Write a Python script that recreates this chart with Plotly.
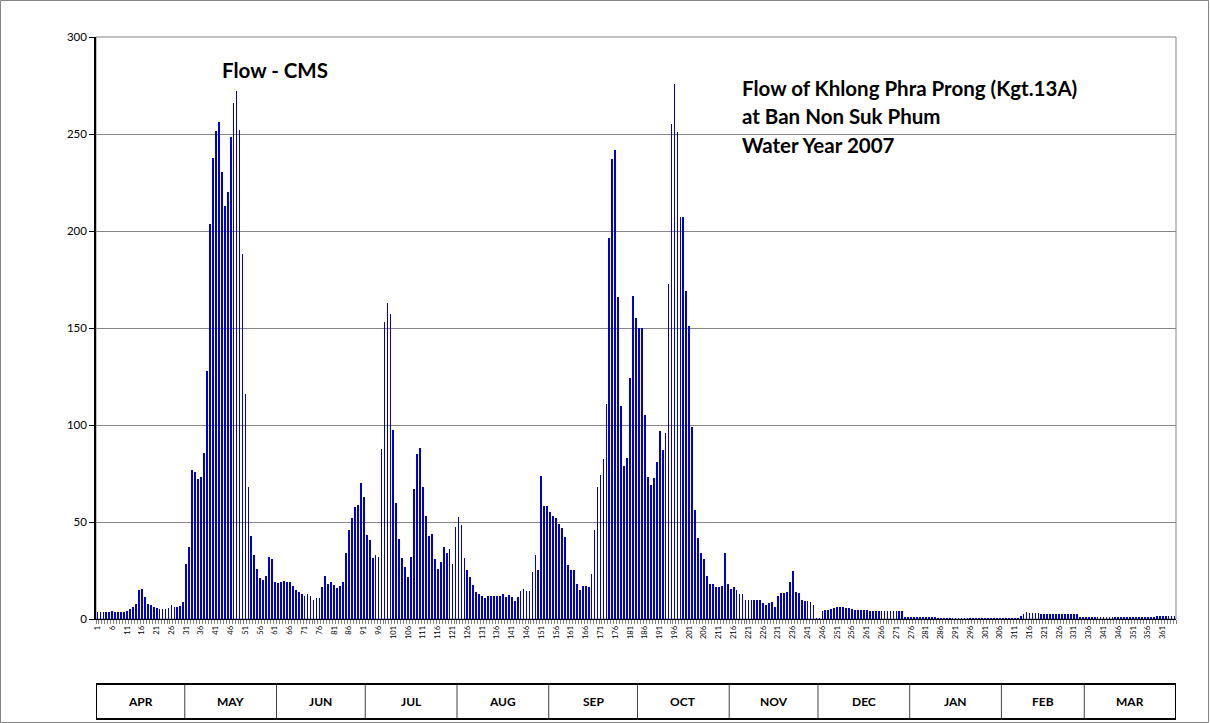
import plotly.graph_objects as go

# Daily discharge (m3/s), Khlong Phra Prong at Ban Non Suk Phum, water year 2007 (1 Apr 2007 - 31 Mar 2008)
days = list(range(1, 366))
flow_cms = [
    3.6, 3.6, 3.6, 3.6, 3.7, 4.0, 3.6, 3.6, 3.6, 3.7,
    4.0, 5.0, 6.0, 7.5, 15.0, 15.5, 11.5, 7.7, 7.0, 6.3,
    5.6, 5.2, 5.0, 5.0, 5.6, 7.0, 6.3, 6.3, 6.5, 9.0,
    28.4, 37.0, 76.6, 76.0, 72.0, 73.0, 85.5, 128.0, 203.5, 237.5,
    251.5, 256.0, 230.5, 213.0, 220.0, 248.5, 266.0, 272.0, 252.0, 188.0,
    116.0, 68.0, 43.0, 33.0, 26.0, 21.0, 20.0, 22.0, 32.0, 31.0,
    19.0, 18.6, 19.0, 19.4, 19.0, 19.0, 17.0, 15.0, 14.0, 13.0,
    12.0, 13.0, 12.0, 10.0, 10.6, 11.0, 16.7, 22.0, 18.0, 19.0,
    17.5, 16.0, 17.0, 19.0, 34.0, 46.0, 52.0, 57.5, 58.6, 70.0,
    63.0, 43.5, 40.5, 31.4, 33.0, 32.0, 87.6, 153.0, 163.0, 157.0,
    97.6, 60.0, 41.0, 31.4, 27.0, 21.6, 31.8, 67.0, 85.0, 88.0,
    68.0, 53.0, 43.0, 43.6, 30.8, 25.6, 29.5, 37.0, 34.0, 36.0,
    28.5, 47.6, 52.7, 48.5, 31.3, 25.3, 21.8, 17.7, 14.0, 13.0,
    12.0, 11.0, 11.7, 11.7, 11.7, 11.7, 12.0, 13.0, 11.5, 12.5,
    11.5, 9.5, 11.3, 14.3, 15.6, 14.3, 14.4, 24.2, 33.0, 25.3,
    73.5, 58.4, 58.4, 55.0, 53.0, 52.0, 48.8, 47.0, 42.4, 28.0,
    25.5, 25.5, 18.3, 15.0, 17.0, 17.2, 16.6, 23.2, 45.8, 67.8,
    74.0, 82.6, 111.0, 196.5, 237.0, 242.0, 166.0, 110.0, 78.7, 83.0,
    124.0, 166.6, 155.0, 150.0, 150.0, 105.0, 73.0, 69.0, 72.5, 81.0,
    97.0, 87.0, 96.0, 172.5, 255.0, 276.0, 251.0, 207.0, 207.0, 169.0,
    151.0, 99.0, 56.0, 42.0, 34.0, 31.0, 22.0, 18.0, 18.0, 16.6,
    16.6, 17.0, 34.0, 18.0, 15.6, 16.4, 15.0, 13.0, 13.0, 10.0,
    9.7, 9.7, 9.7, 9.7, 10.0, 8.0, 7.4, 8.2, 8.6, 6.0,
    12.0, 13.2, 13.4, 14.0, 19.0, 25.0, 13.7, 13.5, 10.0, 9.5,
    9.2, 9.0, 7.2, 0.5, 0.5, 4.3, 4.6, 4.8, 5.2, 5.5,
    6.2, 6.4, 6.0, 5.7, 5.5, 5.0, 4.8, 4.6, 4.5, 4.4,
    4.4, 4.3, 4.3, 4.3, 4.3, 4.2, 4.2, 4.2, 4.1, 4.1,
    4.0, 4.0, 4.0, 1.0, 1.0, 1.0, 0.9, 0.9, 0.9, 0.9,
    0.8, 0.8, 0.8, 0.8, 0.5, 0.5, 0.5, 0.5, 0.5, 0.5,
    0.5, 0.5, 0.5, 0.5, 0.5, 0.5, 0.5, 0.5, 0.5, 0.5,
    0.5, 0.5, 0.5, 0.5, 0.5, 0.5, 0.5, 0.5, 0.5, 0.5,
    0.5, 0.5, 1.5, 2.8, 3.8, 3.3, 3.0, 3.0, 2.9, 2.8,
    2.8, 2.7, 2.7, 2.6, 2.6, 2.6, 2.5, 2.5, 2.5, 2.5,
    2.5, 2.5, 0.8, 0.8, 0.8, 0.8, 0.8, 0.8, 0.8, 0.8,
    0.8, 0.8, 0.8, 0.8, 0.8, 0.8, 0.8, 0.8, 0.8, 0.8,
    0.8, 0.8, 0.8, 0.8, 0.8, 1.0, 1.2, 1.2, 1.3, 1.3,
    1.3, 1.4, 1.4, 1.4, 1.5,
]

# Category labels every fifth day
label_days = list(range(1, 366, 5))
label_text = [str(d) for d in label_days]

# Month strip under the axis
months = ["APR", "MAY", "JUN", "JUL", "AUG", "SEP", "OCT", "NOV", "DEC", "JAN", "FEB", "MAR"]
month_days = [30, 31, 30, 31, 31, 30, 31, 30, 31, 31, 28, 31]

title_lines = [
    "Flow of Khlong Phra Prong (Kgt.13A)",
    "at Ban Non Suk Phum",
    "Water Year 2007",
]

FONT = "Lato"
W, H = 1210, 723
ML, MR, MT, MB = 96, 34, 37, 104
PW, PH = W - ML - MR, H - MT - MB


def px_x(px):
    return (px - ML) / PW


def px_y(py):
    return (H - MB - py) / PH


fig = go.Figure()
fig.add_trace(go.Bar(
    x=days, y=flow_cms, width=0.26,
    marker=dict(color="#0000d0", line=dict(width=0)),
    showlegend=False,
))

shapes = []
# plot-area frame
shapes.append(dict(type="rect", xref="paper", yref="paper", x0=0, x1=1, y0=0, y1=1,
                   line=dict(color="#868686", width=1), layer="below"))
# chart-area frame
shapes.append(dict(type="rect", xref="paper", yref="paper",
                   x0=px_x(0.5), x1=px_x(W - 1.5), y0=px_y(H - 0.5), y1=px_y(0.5),
                   line=dict(color="#868686", width=1), layer="below"))

# month table
box_top, box_bot = px_y(684), px_y(719)
edges = [0.5]
for n in month_days:
    edges.append(edges[-1] + n)
annotations = []
for i, m in enumerate(months):
    if i > 0:
        shapes.append(dict(type="line", xref="x", yref="paper", x0=edges[i], x1=edges[i],
                           y0=box_bot, y1=box_top, line=dict(color="#404040", width=1)))
    annotations.append(dict(x=(edges[i] + edges[i + 1]) / 2, y=px_y(701), xref="x", yref="paper",
                            text=f"<b>{m}</b>", showarrow=False, xanchor="center", yanchor="middle",
                            font=dict(family=FONT, size=12, color="black")))
shapes.append(dict(type="rect", xref="x", yref="paper", x0=edges[0], x1=edges[-1],
                   y0=box_bot, y1=box_top, line=dict(color="black", width=2)))

annotations.append(dict(x=px_x(220), y=px_y(70), xref="paper", yref="paper",
                        text="<b>Flow - CMS</b>", showarrow=False, xanchor="left", yanchor="middle",
                        font=dict(family=FONT, size=20.5, color="black")))
for line, py in zip(title_lines, [88, 116, 145]):
    annotations.append(dict(x=px_x(740), y=px_y(py), xref="paper", yref="paper",
                            text=f"<b>{line}</b>", showarrow=False, xanchor="left", yanchor="middle",
                            font=dict(family=FONT, size=20.5, color="black")))

fig.update_layout(
    width=W, height=H,
    margin=dict(l=ML, r=MR, t=MT, b=MB, pad=0),
    paper_bgcolor="white", plot_bgcolor="white",
    font=dict(family=FONT, color="black"),
    shapes=shapes, annotations=annotations,
    bargap=0,
)
fig.update_xaxes(
    range=[0.5, 365.5], tickmode="array", tickvals=label_days, ticktext=label_text,
    tickangle=-90, tickfont=dict(size=7.5, family=FONT), ticks="",
    showline=True, linecolor="black", linewidth=1, showgrid=False, zeroline=False,
    minor=dict(ticks="outside", tick0=0.5, dtick=1, ticklen=4, tickcolor="#808080", tickwidth=1, showgrid=False),
    ticklabelstandoff=3,
)
fig.update_yaxes(
    range=[0, 300], dtick=50, tick0=0, showgrid=True, gridcolor="#868686", gridwidth=1,
    showline=True, linecolor="black", linewidth=1.5, ticks="outside", ticklen=5,
    tickcolor="black", tickfont=dict(size=11.5, family=FONT), zeroline=False,
)

fig.write_html("out.html")
